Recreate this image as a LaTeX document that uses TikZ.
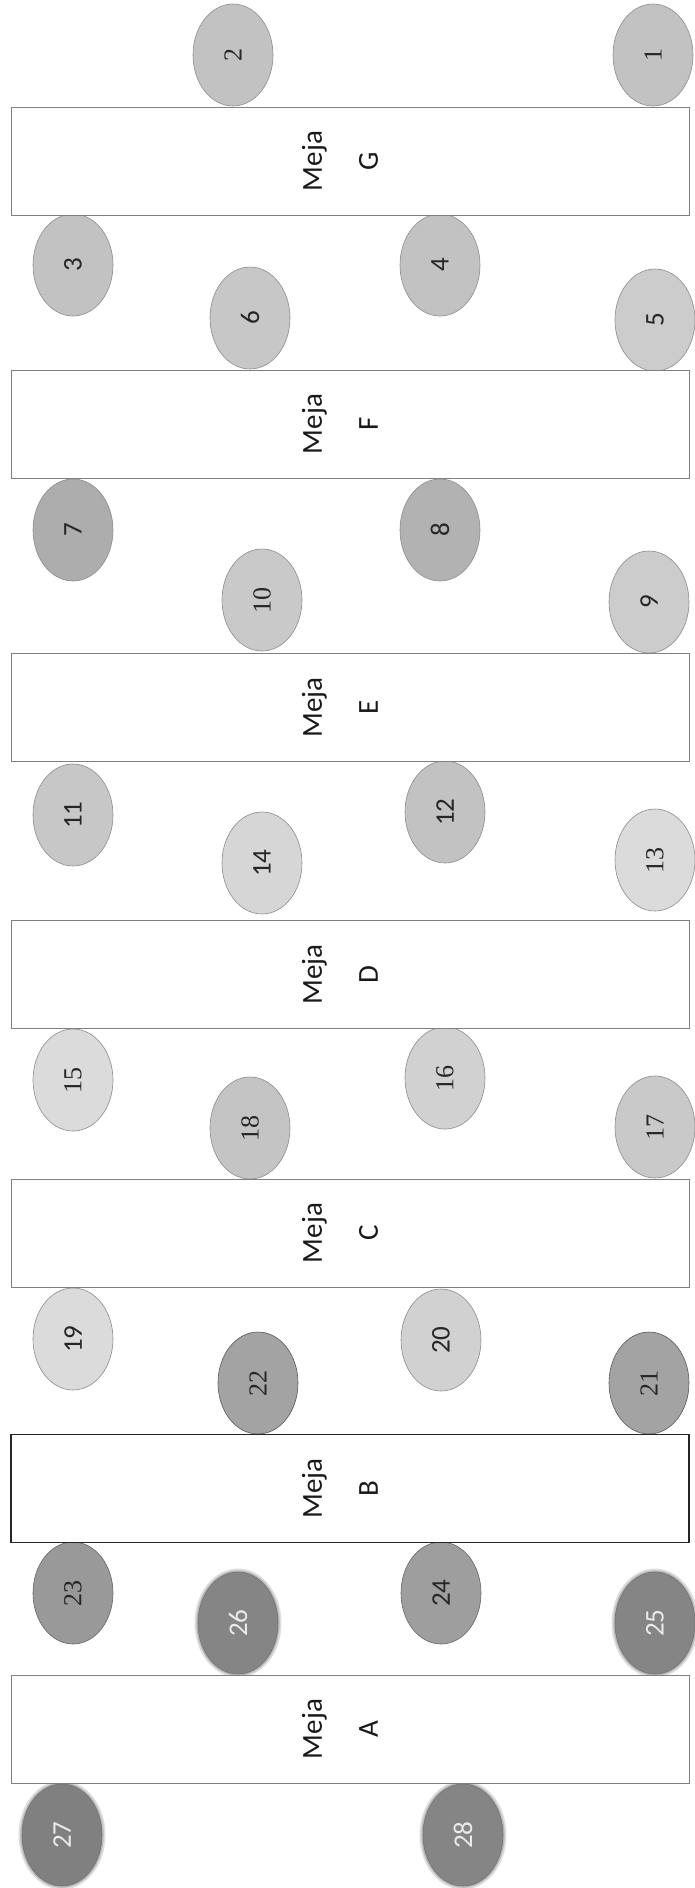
\documentclass[tikz,border=0pt]{standalone}
\usepackage{fontspec}
\setmainfont{Carlito}
\newfontfamily\numserif{Liberation Serif}
\newfontfamily\numsans{Carlito}
\usetikzlibrary{shapes.geometric}
\begin{document}
\begin{tikzpicture}[x=1pt,y=-1pt,
  seat/.style={ellipse, inner sep=0pt, minimum width=102pt, minimum height=80pt,
    rotate=90, draw=black!45, line width=0.6pt, fill=#1, text=black!85,
    font=\numsans\fontsize{27}{27}\selectfont},
  serifnum/.style={font=\numserif\fontsize{26}{26}\selectfont},
  glow/.style={preaction={draw=black!70, line width=7pt, opacity=0.18},
    preaction={draw=black!60, line width=3.5pt, opacity=0.3}, text=black!8, draw=black!55},
  mejabox/.style={rectangle, inner sep=0pt, minimum width=678pt, minimum height=108pt,
    draw=black!50, line width=0.9pt, fill=white},
  mejaboxdark/.style={mejabox, draw=black!85, line width=1.6pt},
  mejatext/.style={rotate=90, align=center, inner sep=0pt, text=black!90,
    font=\fontsize{29}{56}\selectfont}
]
\useasboundingbox (0,0) rectangle (695,1888);
\fill[white] (0,0) rectangle (695,1888);

% seats
\node[seat=black!24, serifnum] (s1) at (653,55) {1};
\node[seat=black!24, serifnum] (s2) at (233,55) {2};
\node[seat=black!24] (s3) at (73,265) {3};
\node[seat=black!24] (s4) at (440,265) {4};
\node[seat=black!20] (s5) at (655,320) {5};
\node[seat=black!22] (s6) at (250,318) {6};
\node[seat=black!32] (s7) at (73,530) {7};
\node[seat=black!30] (s8) at (440,530) {8};
\node[seat=black!20] (s9) at (649,602) {9};
\node[seat=black!21, serifnum] (s10) at (262,600) {10};
\node[seat=black!22] (s11) at (73,815) {11};
\node[seat=black!24] (s12) at (445,812) {12};
\node[seat=black!14, serifnum] (s13) at (655,860) {13};
\node[seat=black!16] (s14) at (262,863) {14};
\node[seat=black!14, serifnum] (s15) at (73,1080) {15};
\node[seat=black!18, serifnum] (s16) at (445,1078) {16};
\node[seat=black!21, serifnum] (s17) at (655,1127) {17};
\node[seat=black!23, serifnum] (s18) at (250,1128) {18};
\node[seat=black!14] (s19) at (73,1339) {19};
\node[seat=black!18] (s20) at (441,1340) {20};
\node[seat=black!36, serifnum, draw=black!65] (s21) at (649,1383) {21};
\node[seat=black!36, serifnum, draw=black!65] (s22) at (258,1383) {22};
\node[seat=black!40, serifnum, draw=black!60] (s23) at (73,1593) {23};
\node[seat=black!38, draw=black!60] (s24) at (441,1593) {24};
\node[seat=black!48, glow] (s25) at (655,1623) {25};
\node[seat=black!48, glow] (s26) at (238,1623) {26};
\node[seat=black!50, glow] (s27) at (62,1835) {27};
\node[seat=black!48, glow] (s28) at (463,1835) {28};

% tables
\node[mejabox] (tG) at (350,161) {};
\node[mejabox] (tF) at (350,424) {};
\node[mejabox] (tE) at (350,707.5) {};
\node[mejabox] (tD) at (350,974.5) {};
\node[mejabox] (tC) at (350,1233) {};
\node[mejaboxdark] (tB) at (350,1488.5) {};
\node[mejabox] (tA) at (350,1729) {};

\node[mejatext] (lG) at (340,161) {Meja\\G};
\node[mejatext] (lF) at (340,424) {Meja\\F};
\node[mejatext] (lE) at (340,707.5) {Meja\\E};
\node[mejatext] (lD) at (340,974.5) {Meja\\D};
\node[mejatext] (lC) at (340,1233) {Meja\\C};
\node[mejatext] (lB) at (340,1488.5) {Meja\\B};
\node[mejatext] (lA) at (340,1729) {Meja\\A};
\end{tikzpicture}
\end{document}
